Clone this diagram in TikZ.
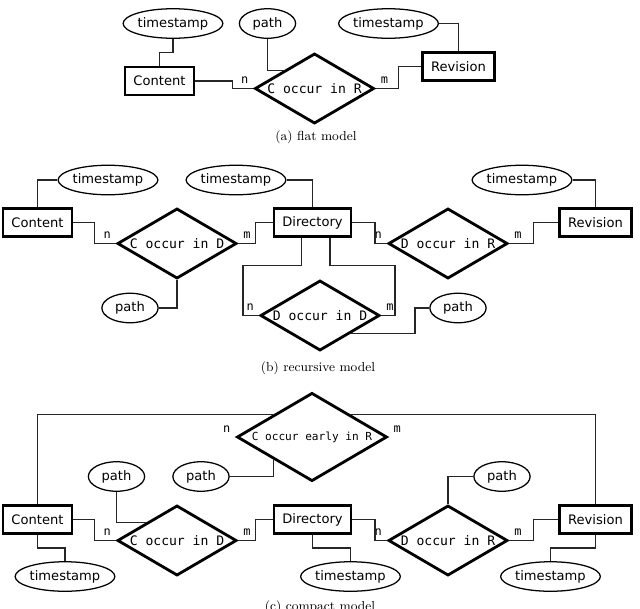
\documentclass[tikz,border=0pt]{standalone}
\usepackage{fontspec}
\newfontfamily\ersans{DejaVu Sans}
\newfontfamily\ermono{DejaVu Sans Mono}
\usetikzlibrary{shapes.geometric,calc}

\tikzset{
  entity/.style={draw, line width=2pt, fill=white, minimum height=20pt, inner xsep=6pt,
    font=\ersans\fontsize{9.3}{11}\selectfont},
  relation/.style={diamond, aspect=1.7, draw, line width=2pt, fill=white, inner sep=1pt,
    font=\ermono\fontsize{9.3}{11}\selectfont},
  attr/.style={ellipse, draw, line width=0.9pt, fill=white, minimum width=#1,
    minimum height=21pt, inner sep=0pt, font=\ersans\fontsize{9.3}{11}\selectfont},
  card/.style={inner xsep=3.5pt, inner ysep=3.3pt, font=\ermono\fontsize{8.5}{10}\selectfont},
  link/.style={line width=1pt, black!85},
  caption/.style={font=\fontsize{9.3}{11}\selectfont}
}

\begin{document}
\begin{tikzpicture}[x=0.025cm, y=-0.025cm]
\useasboundingbox (0,0) rectangle (640,608);

% (a) flat model
\node[entity] (cntA) at (159.5,81) {Content};
\node[entity] (revA) at (458.5,66.5) {Revision};
\node[relation] (corA) at (314.5,88.5) {C occur in R};
\node[attr=68.5pt] (tsA1) at (173,23.5) {timestamp};
\node[attr=40pt] (pA) at (267.5,23.5) {path};
\node[attr=68.5pt] (tsA2) at (388.5,23.5) {timestamp};
\node[card, anchor=south east] (nA) at (corA.west) {n};
\node[card, anchor=south west] (mA) at (corA.east) {m};

\draw[link] (tsA1.south) |- ($(tsA1.south)!.5!(cntA.north)$) -| (cntA.north);
\draw[link] (pA.south) |- (corA.north west);
\draw[link] (tsA2.east) -| (revA.north);
\draw[link] (cntA.east) -| ($(cntA.east)!.64!(corA.west)$) |- (corA.west);
\draw[link] (corA.east) -| ($(corA.east)!.5!(revA.west)$) |- (revA.west);

\node[caption] (capA) at (316,137) {(a) flat model};

% (b) recursive model
\node[entity] (cntB) at (37.5,222.5) {Content};
\node[entity] (dirB) at (312.5,222.5) {Directory};
\node[entity] (revB) at (595.5,222.5) {Revision};
\node[relation] (codB) at (177,243.5) {C occur in D};
\node[relation] (dorB) at (448,243.5) {D occur in R};
\node[relation] (dodB) at (320,315.5) {D occur in D};
\node[attr=68.5pt] (tsB1) at (108,180) {timestamp};
\node[attr=68.5pt] (tsB2) at (236,180) {timestamp};
\node[attr=68.5pt] (tsB3) at (522,180) {timestamp};
\node[attr=40pt] (pB1) at (130,308) {path};
\node[attr=40pt] (pB2) at (458,308) {path};
\node[card, anchor=south east] (nB1) at (codB.west) {n};
\node[card, anchor=south west] (mB1) at (codB.east) {m};
\node[card, anchor=south east] (nB2) at (dorB.west) {n};
\node[card, anchor=south west] (mB2) at (dorB.east) {m};
\node[card, anchor=south east] (nB3) at (dodB.west) {n};
\node[card, anchor=south west] (mB3) at (dodB.east) {m};

\draw[link] (tsB1.west) -| (cntB.north);
\draw[link] (tsB2.east) -| (dirB.north);
\draw[link] (tsB3.east) -| (revB.north);
\draw[link] (codB.south) |- (pB1.east);
\draw[link] (dodB.south east) -| ($(dodB.south east)!.82!(pB2.west)$) |- (pB2.west);
\draw[link] (cntB.east) -| ($(cntB.east)!.5!(codB.west)$) |- (codB.west);
\draw[link] (codB.east) -| ($(codB.east)!.5!(dirB.west)$) |- (dirB.west);
\draw[link] (dirB.east) -| ($(dirB.east)!.65!(dorB.west)$) |- (dorB.west);
\draw[link] (dorB.east) -| ($(dorB.east)!.5!(revB.west)$) |- (revB.west);
\draw[link] ($(dirB.south)+(-11,0)$) |- ($(dodB.west)+(-16,-50)$) |- (dodB.west);
\draw[link] ($(dirB.south)+(17.5,0)$) |- ($(dodB.east)+(14,-50)$) |- (dodB.east);

\node[caption] (capB) at (318,368) {(b) recursive model};

% (c) compact model
\node[entity] (cntC) at (37.5,519.5) {Content};
\node[entity] (dirC) at (312.5,519.5) {Directory};
\node[entity] (revC) at (595.5,519.5) {Revision};
\node[relation, inner sep=1.5pt, font=\ermono\fontsize{7.9}{9}\selectfont] (cerC) at (312,437) {C occur early in R};
\node[relation] (codC) at (177,540.5) {C occur in D};
\node[relation] (dorC) at (448,540.5) {D occur in R};
\node[attr=40pt] (pC1) at (116.5,476.5) {path};
\node[attr=40pt] (pC2) at (201,476.5) {path};
\node[attr=40pt] (pC3) at (502,476.5) {path};
\node[attr=68.5pt] (tsC1) at (65,576.5) {timestamp};
\node[attr=68.5pt] (tsC2) at (350.5,576.5) {timestamp};
\node[attr=68.5pt] (tsC3) at (550.5,576.5) {timestamp};
\node[card, anchor=south east] (nC0) at (cerC.west) {n};
\node[card, anchor=south west] (mC0) at (cerC.east) {m};
\node[card, anchor=south east] (nC1) at (codC.west) {n};
\node[card, anchor=south west] (mC1) at (codC.east) {m};
\node[card, anchor=south east] (nC2) at (dorC.west) {n};
\node[card, anchor=south west] (mC2) at (dorC.east) {m};

\draw[link] (cntC.north) |- (cerC.north west);
\draw[link] (cerC.north east) -| (revC.north);
\draw[link] (cerC.south west) |- (pC2.east);
\draw[link] (pC1.south) |- (codC.north west);
\draw[link] (dorC.north) |- (pC3.west);
\draw[link] (cntC.south) |- ($(cntC.south)!.5!(tsC1.north)$) -| (tsC1.north);
\draw[link] (dirC.south) |- ($(dirC.south)!.5!(tsC2.north)$) -| (tsC2.north);
\draw[link] (revC.south) |- ($(revC.south)!.5!(tsC3.north)$) -| (tsC3.north);
\draw[link] (cntC.east) -| ($(cntC.east)!.5!(codC.west)$) |- (codC.west);
\draw[link] (codC.east) -| ($(codC.east)!.5!(dirC.west)$) |- (dirC.west);
\draw[link] (dirC.east) -| ($(dirC.east)!.65!(dorC.west)$) |- (dorC.west);
\draw[link] (dorC.east) -| ($(dorC.east)!.5!(revC.west)$) |- (revC.west);

\node[caption] (capC) at (320,607) {(c) compact model};
\end{tikzpicture}
\end{document}
